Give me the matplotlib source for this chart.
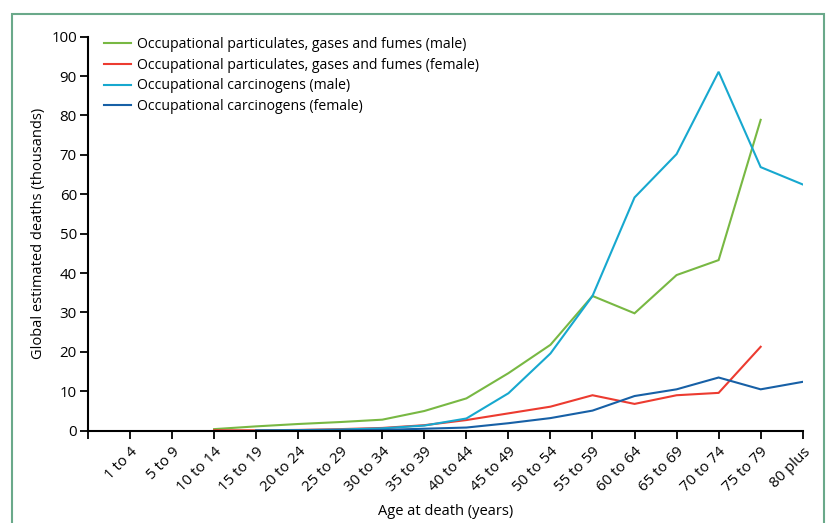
import matplotlib
matplotlib.use("Agg")
import matplotlib.pyplot as plt
from matplotlib.patches import Rectangle
import numpy as np

plt.rcParams['font.family'] = ['Open Sans', 'DejaVu Sans']

categories = ["1 to 4", "5 to 9", "10 to 14", "15 to 19", "20 to 24", "25 to 29",
              "30 to 34", "35 to 39", "40 to 44", "45 to 49", "50 to 54", "55 to 59",
              "60 to 64", "65 to 69", "70 to 74", "75 to 79", "80 plus"]

# values in thousands; None = no data
particulates_male = [None, None, 0.4, 1.1, 1.7, 2.2, 2.8, 5.0, 8.2, 14.6, 21.8, 34.2,
                     29.8, 39.5, 43.3, 78.9, None]
particulates_female = [None, None, 0.1, 0.1, 0.2, 0.4, 0.7, 1.4, 2.7, 4.4, 6.1, 9.0,
                       6.8, 9.0, 9.6, 21.3, None]
carcinogens_male = [None, None, None, 0.05, 0.15, 0.3, 0.6, 1.3, 3.1, 9.5, 19.6, 34.2,
                    59.2, 70.2, 91.1, 66.9, 62.5]
carcinogens_female = [None, None, None, 0.02, 0.05, 0.1, 0.2, 0.5, 0.8, 1.9, 3.2, 5.1,
                      8.8, 10.5, 13.5, 10.5, 12.4]

series = [
    ("Occupational particulates, gases and fumes (male)", particulates_male, "#78b843"),
    ("Occupational particulates, gases and fumes (female)", particulates_female, "#ec3b30"),
    ("Occupational carcinogens (male)", carcinogens_male, "#17a8cf"),
    ("Occupational carcinogens (female)", carcinogens_female, "#1760a6"),
]

fig = plt.figure(figsize=(8.30, 5.23), dpi=100)
W, H = 830, 523
ax = fig.add_axes([88 / W, 1 - 430.7 / H, (802.7 - 88) / W, (430.7 - 36.7) / H])

x = np.arange(1, len(categories) + 1)
for label, vals, color in series:
    v = np.array([np.nan if a is None else a for a in vals], dtype=float)
    ax.plot(x, v, color=color, lw=1.5, label=label, solid_joinstyle='miter')

ax.set_xlim(0, len(categories))
ax.set_ylim(0, 100)
ax.set_xticks(np.arange(0, len(categories) + 1))
ax.set_xticklabels([""] + categories, rotation=45, ha='right', va='top',
                   rotation_mode='anchor', fontsize=10.8)
ax.set_yticks(np.arange(0, 101, 10))
ax.tick_params(axis='y', labelsize=10.8, length=6, width=1.3, direction='out', pad=2)
ax.tick_params(axis='x', length=6, width=1.3, direction='out', pad=4)
for s in ['top', 'right']:
    ax.spines[s].set_visible(False)
for s in ['left', 'bottom']:
    ax.spines[s].set_linewidth(1.5)
    ax.spines[s].set_color('black')

ax.set_ylabel("Global estimated deaths (thousands)", fontsize=10.5, labelpad=4)
ax.set_xlabel("Age at death (years)", fontsize=10.5, labelpad=6)

leg = ax.legend(loc='upper left', bbox_to_anchor=(0.0146, 1.013), frameon=False,
                fontsize=10.1, handlelength=1.9, handletextpad=0.45,
                labelspacing=0.4, borderaxespad=0.0)

fig.patches.append(Rectangle((12 / W, -0.02), (824 - 12) / W, 1 - 14 / H + 0.02,
                             transform=fig.transFigure, fill=False,
                             edgecolor='#6aa98a', lw=1.5))

fig.savefig("out.png", dpi=100)
